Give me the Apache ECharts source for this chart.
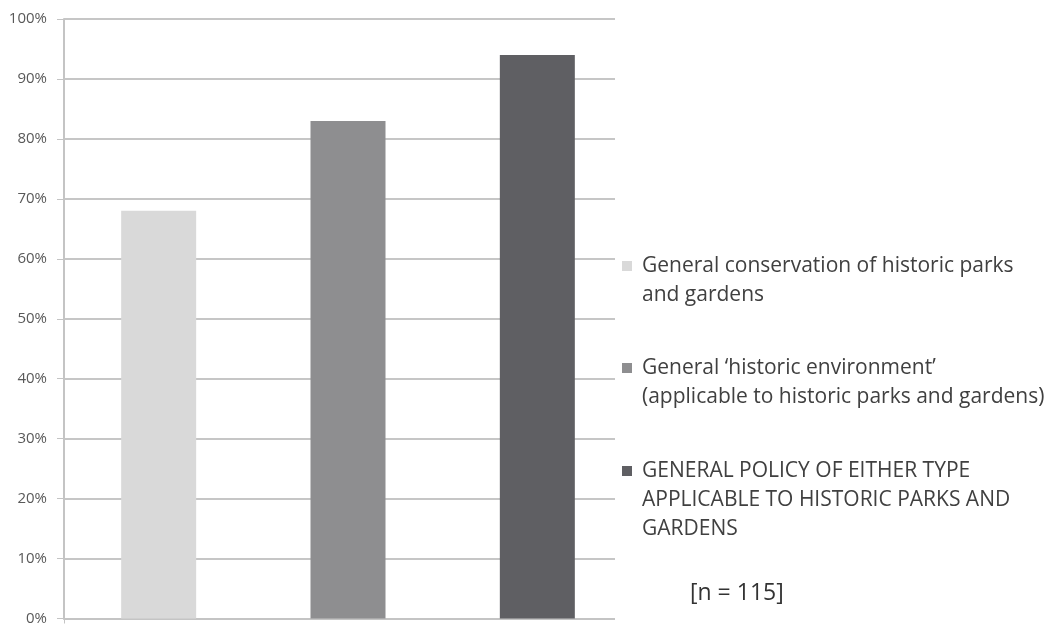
<!DOCTYPE html>
<html>
<head>
<meta charset="utf-8">
<script src="https://cdn.jsdelivr.net/npm/echarts@6/dist/echarts.min.js"></script>
<style>
  html, body { margin: 0; padding: 0; background: #ffffff; }
  #chart { width: 1057px; height: 626px; }
</style>
</head>
<body>
<div id="chart"></div>
<script>
// Share of policies covering historic parks and gardens
const categories = [
  'General conservation of historic parks and gardens',
  'General \u2018historic environment\u2019 (applicable to historic parks and gardens)',
  'GENERAL POLICY OF EITHER TYPE APPLICABLE TO HISTORIC PARKS AND GARDENS'
];
const legendLabels = [
  'General conservation of historic parks\nand gardens',
  'General \u2018historic environment\u2019\n(applicable to historic parks and gardens)',
  'GENERAL POLICY OF EITHER TYPE\nAPPLICABLE TO HISTORIC PARKS AND\nGARDENS'
];
const values = [68, 83, 94];
const barColors = ['#d9d9d9', '#8e8e90', '#5f5f63'];
const yTicks = { min: 0, max: 100, interval: 10 };
const sampleNote = '[n = 115]';

const FONT = '"Open Sans", Lato, sans-serif';
const LINE_H = 29;
const legendIconCenters = [266, 368, 471];
// square swatch followed by an empty run, so the label sits a little further right
const SWATCH = 'path://M0,0L10,0L10,10L0,10Z M15,5';

const chart = echarts.init(document.getElementById('chart'), null, { renderer: 'canvas' });

// one series per category so each gets its own legend entry
const series = categories.map((name, i) => ({
  name: name,
  type: 'bar',
  barWidth: 75,
  barGap: '-100%',
  itemStyle: { color: barColors[i] },
  data: categories.map((c, j) => (j === i ? values[i] : null))
}));

// one legend block per series; leading blank lines keep the icon level
// with the first text line (legend text is always centred on its icon)
const legends = categories.map((name, i) => {
  const n = legendLabels[i].split('\n').length;
  const text = '\n'.repeat(n - 1) + legendLabels[i];
  return {
    orient: 'vertical',
    left: 622,
    top: legendIconCenters[i] - (2 * n - 1) * LINE_H / 2,
    padding: 0,
    itemWidth: 15,
    itemHeight: 10,
    selectedMode: false,
    z: 20,
    formatter: () => text,
    textStyle: {
      fontFamily: FONT,
      fontSize: 21,
      lineHeight: LINE_H,
      color: '#404040'
    },
    data: [{ name: name, icon: SWATCH }]
  };
});

chart.setOption({
  animation: false,
  backgroundColor: '#ffffff',
  grid: { left: 64, right: 425, top: 19, bottom: 6, containLabel: false },
  xAxis: {
    type: 'category',
    data: categories,
    axisLine: { show: true, lineStyle: { color: '#c4c4c4', width: 2 } },
    axisTick: { show: true, length: 5, lineStyle: { color: '#c4c4c4', width: 1 } },
    axisLabel: { show: false },
    splitLine: { show: false }
  },
  yAxis: {
    type: 'value',
    min: yTicks.min,
    max: yTicks.max,
    interval: yTicks.interval,
    axisLine: { show: true, lineStyle: { color: '#c4c4c4', width: 2 } },
    axisTick: { show: true, length: 7, lineStyle: { color: '#c4c4c4', width: 1 } },
    axisLabel: {
      formatter: '{value}%',
      margin: 17,
      fontFamily: FONT,
      fontSize: 15,
      color: '#595959'
    },
    splitLine: { show: true, lineStyle: { color: '#c6c6c6', width: 2 } }
  },
  legend: legends,
  series: series,
  graphic: [
    {
      type: 'rect',
      z: 10,
      shape: { x: 615, y: 0, width: 442, height: 626 },
      style: { fill: '#ffffff' },
      silent: true
    },
    {
      type: 'text',
      z: 20,
      x: 690,
      y: 593,
      style: {
        text: sampleNote,
        font: '23px ' + FONT,
        fill: '#333333',
        verticalAlign: 'middle'
      }
    }
  ]
});
</script>
</body>
</html>
